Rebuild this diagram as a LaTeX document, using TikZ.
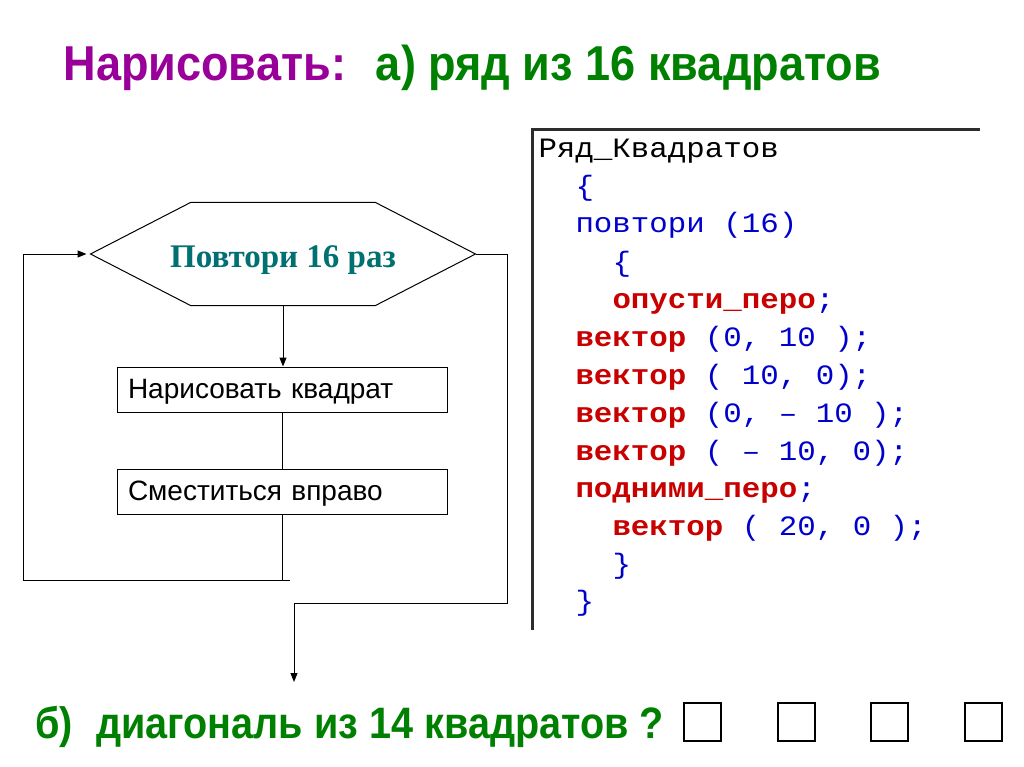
\documentclass[tikz,border=0pt]{standalone}
\usepackage{fontspec}
\setmainfont{Liberation Sans}
\newfontfamily\slidefont[FakeStretch=0.92]{Liberation Sans}
\newfontfamily\taskfont[FakeStretch=0.9]{Liberation Sans}
\newfontfamily\hexfont{Liberation Serif}
\newfontfamily\codefont[FakeStretch=1.1]{Liberation Mono}
\usetikzlibrary{arrows.meta}
\definecolor{titlepurple}{RGB}{153,0,153}
\definecolor{titlegreen}{RGB}{0,128,0}
\definecolor{hexteal}{RGB}{0,112,112}
\definecolor{codered}{RGB}{200,0,0}
\definecolor{codeblue}{RGB}{0,0,204}
\newcommand{\kw}[1]{{\color{codered}\bfseries #1}}
\begin{document}
\begin{tikzpicture}[x=1pt,y=-1pt,line width=1pt,
  arr/.style={-{Triangle[length=9pt,width=7pt]}},
  stepbox/.style={draw,minimum width=330pt,minimum height=45pt,text width=308pt,
    inner xsep=11pt,align=left,text height=20pt,text depth=3pt,
    font=\fontsize{28}{30}\selectfont},
  codeline/.style={anchor=base west,inner sep=0pt,text=codeblue,
    font=\codefont\fontsize{28}{30}\selectfont},
  sqbox/.style={draw,line width=2pt,minimum width=37pt,minimum height=38pt,inner sep=0pt}]
\useasboundingbox (0,0) rectangle (1024,767);
% title
\node[anchor=base west,inner sep=0pt,font=\slidefont\bfseries\fontsize{49}{52}\selectfont]
  (title) at (63,81) {\color{titlepurple}Нарисовать:\hspace{30pt}\color{titlegreen}а) ряд из 16 квадратов};
% flowchart
\node[minimum width=384pt,minimum height=102pt,inner sep=0pt,text height=26pt,text depth=0pt,
  text=hexteal,font=\hexfont\bfseries\fontsize{33}{36}\selectfont] (rep) at (283,254) {Повтори 16 раз};
\draw (rep.west) -- ([xshift=100pt]rep.north west) -- ([xshift=-100pt]rep.north east)
  -- (rep.east) -- ([xshift=-100pt]rep.south east) -- ([xshift=100pt]rep.south west) -- cycle;
\node[stepbox] (box1) at (282,389.5) {Нарисовать квадрат};
\node[stepbox] (box2) at (282,491.5) {Сместиться вправо};
\coordinate (loopR) at (290,580);
\coordinate (loopL) at (23,580);
\coordinate (exitR) at (507,603);
\coordinate (exitE) at (294,682);
\draw[arr] (rep.south) -- (rep.south |- box1.north);
\draw (box1.south) -- (box2.north);
\draw (box2.south) -- (box2.south |- loopR);
\draw[arr] (loopR) -- (loopL) |- ([xshift=-4pt]rep.west);
\draw[arr] (rep.east) -| (exitR) -| (exitE);
% code window
\draw[line width=3pt,gray!35!black] (980,130) -- (532,130) -- (532,630);
\node[codeline,text=black] (c0) at (538,158) {Ряд\_Квадратов};
\node[codeline] (c1) at (575,196) {\{};
\node[codeline] (c2) at (575,233) {повтори (16)};
\node[codeline] (c3) at (612,271) {\{};
\node[codeline] (c4) at (612,308) {\kw{опусти\_перо};};
\node[codeline] (c5) at (575,346) {\kw{вектор} (0, 10 );};
\node[codeline] (c6) at (575,384) {\kw{вектор} ( 10, 0);};
\node[codeline] (c7) at (575,422) {\kw{вектор} (0, – 10 );};
\node[codeline] (c8) at (575,460) {\kw{вектор} ( – 10, 0);};
\node[codeline] (c9) at (575,497) {\kw{подними\_перо};};
\node[codeline] (c10) at (612,535) {\kw{вектор} ( 20, 0 );};
\node[codeline] (c11) at (612,573) {\}};
\node[codeline] (c12) at (575,610) {\}};
% part b
\node[anchor=base west,inner sep=0pt,text=titlegreen,font=\taskfont\bfseries\fontsize{44}{48}\selectfont]
  (task) at (35,738) {б)\hspace{23pt}диагональ из 14 квадратов ?};
\foreach \i in {0,...,3}
  \node[sqbox] (sq\i) at ({702.5+93.7*\i},722) {};
\end{tikzpicture}
\end{document}
